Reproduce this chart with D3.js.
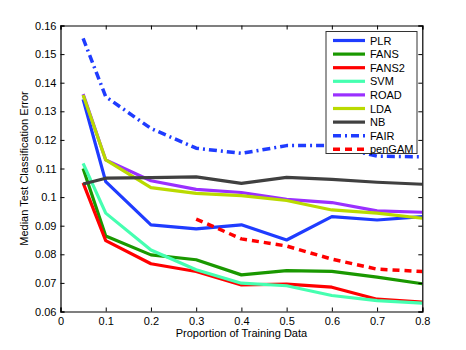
<!DOCTYPE html>
<html><head><meta charset="utf-8">
<script src="https://cdn.jsdelivr.net/npm/d3@7"></script>
<style>body{margin:0;background:#fff}svg{display:block}text{font-family:Arial,"Liberation Sans",Helvetica,sans-serif}</style>
</head><body>
<script>
const xs = [0.05,0.1,0.2,0.3,0.4,0.5,0.6,0.7,0.8];
const PLR   = [0.1342,0.1054,0.0903,0.0889,0.0903,0.0850,0.0932,0.0920,0.0932];
const FANS  = [0.1100,0.0864,0.0798,0.0781,0.0728,0.0743,0.0740,0.0720,0.0697];
const FANS2 = [0.1050,0.0848,0.0767,0.0740,0.0693,0.0696,0.0685,0.0643,0.0633];
const SVM   = [0.1118,0.0944,0.0815,0.0746,0.0699,0.0690,0.0656,0.0638,0.0629];
const ROAD  = [0.1360,0.1130,0.1057,0.1027,0.1016,0.0992,0.0981,0.0952,0.0947];
const LDA   = [0.1357,0.1130,0.1033,0.1013,0.1005,0.0988,0.0955,0.0944,0.0926];
const NB    = [0.1046,0.1066,0.1068,0.1071,0.1048,0.1069,0.1062,0.1052,0.1045];
const FAIR  = [0.1555,0.1351,0.1240,0.1171,0.1153,0.1180,0.1180,0.1143,0.1141];
const penGAMx = [0.3,0.4,0.5,0.6,0.7,0.8];
const penGAM  = [0.0923,0.0854,0.0829,0.0783,0.0748,0.0740];
const xTicks = [0,0.1,0.2,0.3,0.4,0.5,0.6,0.7,0.8];
const yTicks = [0.06,0.07,0.08,0.09,0.1,0.11,0.12,0.13,0.14,0.15,0.16];
const seriesNames = ["PLR","FANS","FANS2","SVM","ROAD","LDA","NB","FAIR","penGAM"];

const styles = {
  PLR:{c:"#1f3cff",w:3.2,d:null},
  FANS:{c:"#1a9800",w:3.2,d:null},
  FANS2:{c:"#ff0000",w:3.2,d:null},
  SVM:{c:"#45ffb0",w:3.2,d:null},
  ROAD:{c:"#9a30ff",w:3.2,d:null},
  LDA:{c:"#bada00",w:3.2,d:null},
  NB:{c:"#404040",w:3.2,d:null},
  FAIR:{c:"#1f3cff",w:3.5,d:"8,4,2,4"},
  penGAM:{c:"#ff0000",w:3.5,d:"7,5"}
};
const data = {
  PLR:xs.map((x,i)=>[x,PLR[i]]), FANS:xs.map((x,i)=>[x,FANS[i]]),
  FANS2:xs.map((x,i)=>[x,FANS2[i]]), SVM:xs.map((x,i)=>[x,SVM[i]]),
  ROAD:xs.map((x,i)=>[x,ROAD[i]]), LDA:xs.map((x,i)=>[x,LDA[i]]),
  NB:xs.map((x,i)=>[x,NB[i]]), FAIR:xs.map((x,i)=>[x,FAIR[i]]),
  penGAM:penGAMx.map((x,i)=>[x,penGAM[i]])
};

(function(){
const W=466,H=350;
const L=60.5,R=422.3,T=25.5,B=311.5;
const svg=d3.select("body").append("svg").attr("width",W).attr("height",H);
const x=d3.scaleLinear().domain([0,0.8]).range([L,R]);
const y=d3.scaleLinear().domain([0.06,0.16]).range([B,T]);

const defs=svg.append("defs");
defs.append("clipPath").attr("id","clip").append("rect").attr("x",L).attr("y",T).attr("width",R-L).attr("height",B-T);

const line=d3.line().x(d=>x(d[0])).y(d=>y(d[1]));
const g=svg.append("g").attr("clip-path","url(#clip)");
seriesNames.forEach(n=>{
  const s=styles[n];
  g.append("path").datum(data[n]).attr("d",line).attr("fill","none")
   .attr("stroke",s.c).attr("stroke-width",s.w).attr("stroke-linejoin","round")
   .attr("stroke-dasharray",s.d);
});

const fmt=d=>String(+d.toFixed(2));
const ax=svg.append("g").attr("font-size",11);
const aBot=d3.axisBottom(x).tickValues(xTicks).tickSize(-4).tickPadding(6).tickFormat(fmt);
const aTop=d3.axisTop(x).tickValues(xTicks).tickSize(-4).tickFormat("");
const aLeft=d3.axisLeft(y).tickValues(yTicks).tickSize(-4).tickPadding(4).tickFormat(fmt);
const aRight=d3.axisRight(y).tickValues(yTicks).tickSize(-4).tickFormat("");
[[aBot,`translate(0,${B})`],[aTop,`translate(0,${T})`],[aLeft,`translate(${L},0)`],[aRight,`translate(${R},0)`]].forEach(([a,t])=>{
  const gg=ax.append("g").attr("transform",t).call(a);
  gg.select(".domain").attr("stroke","#000").attr("stroke-width",1.2);
  gg.selectAll(".tick line").attr("stroke","#000");
  gg.selectAll("text").attr("fill","#000").attr("font-size",11).attr("font-family","Arial, 'Liberation Sans', sans-serif");
});
svg.append("text").attr("x",(L+R)/2).attr("y",337).attr("text-anchor","middle").attr("font-size",11).text("Proportion of Training Data");
svg.append("text").attr("transform",`translate(28,${(T+B)/2}) rotate(-90)`).attr("text-anchor","middle").attr("font-size",11).text("Median Test Classification Error");

const lg=svg.append("g");
lg.append("rect").attr("x",326).attr("y",31.5).attr("width",91).attr("height",122).attr("fill","#fff").attr("stroke","#333").attr("stroke-width",1);
seriesNames.forEach((n,i)=>{
  const s=styles[n]; const yy=40.5+i*13.6;
  lg.append("line").attr("x1",333).attr("x2",365).attr("y1",yy).attr("y2",yy)
    .attr("stroke",s.c).attr("stroke-width",s.w).attr("stroke-dasharray",s.d);
  lg.append("text").attr("x",370).attr("y",yy+4).attr("font-size",11).text(n);
});
})();
</script>
</body></html>
